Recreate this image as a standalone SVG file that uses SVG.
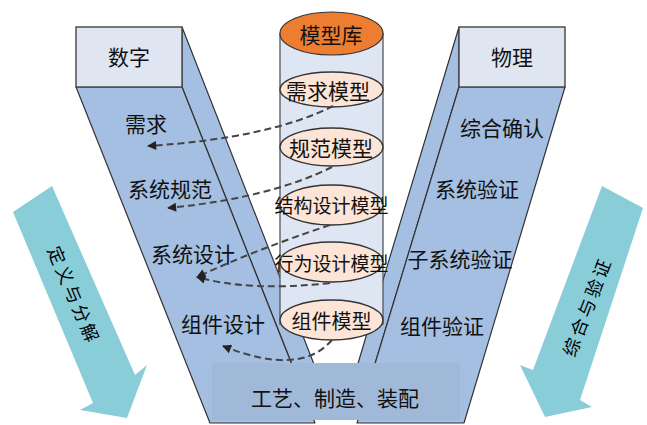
<svg xmlns="http://www.w3.org/2000/svg" width="647" height="425" viewBox="0 0 647 425">
<defs>
<style>
.arm{fill:#a4bfe1;stroke:#333;stroke-width:1.2;stroke-linejoin:round}
.head{fill:#dfe6f2;stroke:#444;stroke-width:1.4}
.teal{fill:#89cdd9;stroke:none}
.ell{fill:#fce4d6;stroke:#333;stroke-width:1.3}
.t{font-family:"Noto Sans CJK SC","Noto Sans",sans-serif;font-size:21px;fill:#111;text-anchor:middle;dominant-baseline:central}
.at{font-size:18px;letter-spacing:3px;fill:#000}
.dash{fill:none;stroke:#444;stroke-width:2;stroke-dasharray:7 4;marker-end:url(#ah)}
</style>
<marker id="ah" viewBox="0 0 10 10" refX="9" refY="5" markerWidth="11" markerHeight="9" markerUnits="userSpaceOnUse" orient="auto">
<path d="M0,0 L10,5 L0,10 z" fill="#222"/>
</marker>
</defs>
<rect width="647" height="425" fill="#fff"/>

<g id="arrow-left">
<polygon class="teal" points="13,212 52,186 135,375 147,365 127,418 80,410 93,403"/>
<text class="t at" transform="translate(75,295) rotate(67)">定义与分解</text>
</g>
<g id="arrow-right">
<polygon class="teal" points="602,186 643,208 580,400 592,407 545,417 520,365 533,370"/>
<text class="t at" transform="translate(586,306) rotate(-69)">综合与验证</text>
</g>

<g id="digital">
<polygon class="arm" points="182,27 182,87 306,400 328,400"/>
<polygon class="arm" points="76,87 182,87 315,423 210,423"/>
<rect class="head" x="76" y="27" width="106" height="60"/>
<text class="t" x="129" y="56">数字</text>
</g>

<g id="physical">
<polygon class="arm" points="459,27 459,87 364,400 347,400"/>
<polygon class="arm" points="459,87 565,87 464,423 357,423"/>
<rect class="head" x="459" y="27" width="106" height="60"/>
<text class="t" x="512" y="56">物理</text>
</g>

<g id="model-library">
<rect x="280" y="33" width="103" height="292" fill="#dde6f2"/>
<line x1="280" y1="33" x2="280" y2="325" stroke="#555" stroke-width="1.3"/>
<line x1="383" y1="33" x2="383" y2="325" stroke="#555" stroke-width="1.3"/>
<ellipse cx="331.5" cy="33.5" rx="51.5" ry="21.5" fill="#ed7d31" stroke="#333" stroke-width="1.2"/>
<text class="t" x="331" y="34">模型库</text>
</g>
<g id="m-req"><ellipse class="ell" cx="331.5" cy="89.5" rx="51.5" ry="17.5"/><text class="t" x="328" y="90">需求模型</text></g>
<g id="m-spec"><ellipse class="ell" cx="331.5" cy="147" rx="51.5" ry="19"/><text class="t" x="331" y="147">规范模型</text></g>
<g id="m-struct"><ellipse class="ell" cx="331.5" cy="205" rx="51.5" ry="20"/><text class="t" x="331.5" y="204" style="font-size:19px">结构设计模型</text></g>
<g id="m-behav"><ellipse class="ell" cx="331.5" cy="262" rx="51.5" ry="20"/><text class="t" x="331.5" y="262" style="font-size:19px">行为设计模型</text></g>
<g id="m-comp"><ellipse class="ell" cx="331.5" cy="320" rx="51.5" ry="20"/><text class="t" x="331.5" y="320" style="font-size:20px">组件模型</text></g>

<g id="manufacture">
<rect x="212" y="363" width="248" height="57" fill="#a0b9d8"/>
<text class="t" x="335" y="397">工艺、制造、装配</text>
</g>

<g id="labels-left">
<text class="t" x="146" y="123">需求</text>
<text class="t" x="170" y="188">系统规范</text>
<text class="t" x="193" y="253">系统设计</text>
<text class="t" x="223" y="323">组件设计</text>
</g>
<g id="labels-right">
<text class="t" x="502" y="127">综合确认</text>
<text class="t" x="477" y="188">系统验证</text>
<text class="t" x="460" y="258">子系统验证</text>
<text class="t" x="442" y="325">组件验证</text>
</g>

<g id="connectors">
<path class="dash" d="M333,106 Q270,138 148,146"/>
<path class="dash" d="M332,167 Q270,198 168,208"/>
<path class="dash" d="M330,225 Q255,250 197,277"/>
<path class="dash" d="M330,283 Q250,292 197,277"/>
<path class="dash" d="M332,340 Q300,377 223,346"/>
</g>
</svg>
